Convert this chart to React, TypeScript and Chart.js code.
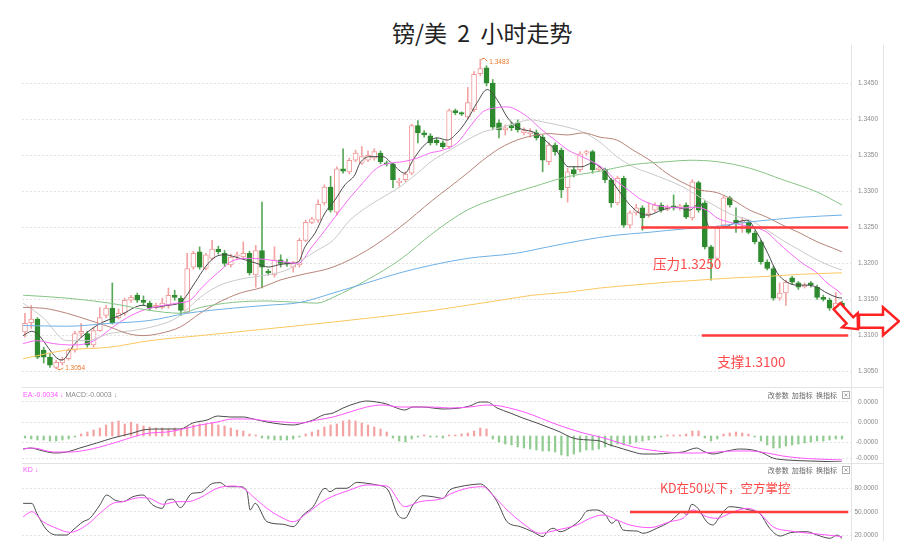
import React, { useEffect, useRef } from "react";
import { Chart, registerables } from "chart.js";

Chart.register(...registerables);

// ---------------- data ----------------
const TITLE = "镑/美  2  小时走势";

const candleOpen = [
  1.3105, 1.3118, 1.3123, 1.3080, 1.3070, 1.3056, 1.3062, 1.3068, 1.3080, 1.3103,
  1.3103, 1.3087, 1.3107, 1.3128, 1.3138, 1.3125, 1.3131, 1.3149, 1.3156, 1.3149,
  1.3145, 1.3139, 1.3139, 1.3141, 1.3156, 1.3152, 1.3132, 1.3195, 1.3216, 1.3193,
  1.3207, 1.3220, 1.3214, 1.3198, 1.3210, 1.3209, 1.3214, 1.3184, 1.3218, 1.3189,
  1.3184, 1.3205, 1.3202, 1.3195, 1.3198, 1.3232, 1.3257, 1.3260, 1.3284, 1.3306,
  1.3271, 1.3331, 1.3327, 1.3343, 1.3339, 1.3343, 1.3346, 1.3353, 1.3339, 1.3338,
  1.3312, 1.3316, 1.3325, 1.3391, 1.3381, 1.3377, 1.3371, 1.3367, 1.3362, 1.3412,
  1.3409, 1.3403, 1.3413, 1.3463, 1.3471, 1.3450, 1.3395, 1.3385, 1.3391, 1.3395,
  1.3381, 1.3380, 1.3381, 1.3375, 1.3341, 1.3364, 1.3357, 1.3305, 1.3330, 1.3330,
  1.3353, 1.3355, 1.3330, 1.3330, 1.3316, 1.3284, 1.3318, 1.3253, 1.3270, 1.3277,
  1.3267, 1.3274, 1.3281, 1.3275, 1.3280, 1.3277, 1.3281, 1.3263, 1.3312, 1.3284,
  1.3223, 1.3207, 1.3253, 1.3291, 1.3260, 1.3256, 1.3257, 1.3242, 1.3230, 1.3202,
  1.3193, 1.3152, 1.3159, 1.3180, 1.3173, 1.3168, 1.3173, 1.3167, 1.3153, 1.3149,
  1.3138, 1.3145,
];
const candleClose = [
  1.3117, 1.3123, 1.3070, 1.3070, 1.3059, 1.3063, 1.3067, 1.3080, 1.3103, 1.3106,
  1.3087, 1.3107, 1.3125, 1.3138, 1.3118, 1.3131, 1.3149, 1.3153, 1.3149, 1.3146,
  1.3138, 1.3142, 1.3145, 1.3156, 1.3153, 1.3135, 1.3193, 1.3214, 1.3195, 1.3212,
  1.3220, 1.3216, 1.3200, 1.3209, 1.3212, 1.3214, 1.3187, 1.3218, 1.3195, 1.3187,
  1.3205, 1.3200, 1.3199, 1.3200, 1.3232, 1.3257, 1.3262, 1.3282, 1.3306, 1.3274,
  1.3331, 1.3328, 1.3343, 1.3353, 1.3348, 1.3350, 1.3355, 1.3341, 1.3338, 1.3316,
  1.3314, 1.3324, 1.3391, 1.3381, 1.3378, 1.3367, 1.3367, 1.3362, 1.3412, 1.3409,
  1.3407, 1.3423, 1.3462, 1.3470, 1.3450, 1.3389, 1.3385, 1.3388, 1.3388, 1.3385,
  1.3384, 1.3382, 1.3374, 1.3343, 1.3364, 1.3355, 1.3302, 1.3327, 1.3324, 1.3352,
  1.3355, 1.3330, 1.3332, 1.3316, 1.3284, 1.3318, 1.3253, 1.3270, 1.3277, 1.3263,
  1.3270, 1.3281, 1.3274, 1.3278, 1.3277, 1.3280, 1.3264, 1.3313, 1.3274, 1.3223,
  1.3207, 1.3249, 1.3291, 1.3281, 1.3256, 1.3259, 1.3243, 1.3230, 1.3202, 1.3193,
  1.3152, 1.3159, 1.3174, 1.3174, 1.3167, 1.3170, 1.3170, 1.3153, 1.3150, 1.3138,
  1.3145, 1.3131,
];
const candleHigh = [
  1.3131, 1.3142, 1.3125, 1.3084, 1.3075, 1.3066, 1.3070, 1.3082, 1.3106, 1.3117,
  1.3106, 1.3110, 1.3139, 1.3142, 1.3173, 1.3137, 1.3152, 1.3156, 1.3159, 1.3155,
  1.3148, 1.3145, 1.3152, 1.3166, 1.3163, 1.3155, 1.3214, 1.3217, 1.3223, 1.3214,
  1.3232, 1.3224, 1.3218, 1.3213, 1.3216, 1.3230, 1.3217, 1.3225, 1.3285, 1.3192,
  1.3223, 1.3212, 1.3206, 1.3203, 1.3235, 1.3260, 1.3264, 1.3288, 1.3309, 1.3321,
  1.3334, 1.3359, 1.3346, 1.3357, 1.3362, 1.3356, 1.3359, 1.3356, 1.3342, 1.3339,
  1.3318, 1.3327, 1.3393, 1.3398, 1.3384, 1.3380, 1.3374, 1.3370, 1.3414, 1.3414,
  1.3410, 1.3444, 1.3466, 1.3483, 1.3474, 1.3455, 1.3399, 1.3392, 1.3396, 1.3399,
  1.3388, 1.3387, 1.3385, 1.3378, 1.3367, 1.3367, 1.3360, 1.3332, 1.3334, 1.3355,
  1.3357, 1.3357, 1.3335, 1.3332, 1.3318, 1.3321, 1.3321, 1.3273, 1.3282, 1.3280,
  1.3284, 1.3284, 1.3284, 1.3281, 1.3295, 1.3282, 1.3284, 1.3316, 1.3314, 1.3287,
  1.3225, 1.3252, 1.3293, 1.3293, 1.3277, 1.3264, 1.3260, 1.3245, 1.3232, 1.3205,
  1.3196, 1.3173, 1.3177, 1.3182, 1.3175, 1.3173, 1.3175, 1.3170, 1.3156, 1.3152,
  1.3160, 1.3148,
];
const candleLow = [
  1.3098, 1.3110, 1.3068, 1.3062, 1.3056, 1.3054, 1.3059, 1.3066, 1.3077, 1.3098,
  1.3084, 1.3084, 1.3106, 1.3125, 1.3116, 1.3123, 1.3128, 1.3146, 1.3146, 1.3142,
  1.3135, 1.3137, 1.3137, 1.3138, 1.3149, 1.3128, 1.3131, 1.3192, 1.3192, 1.3191,
  1.3205, 1.3213, 1.3196, 1.3195, 1.3206, 1.3206, 1.3184, 1.3167, 1.3166, 1.3184,
  1.3181, 1.3195, 1.3196, 1.3188, 1.3195, 1.3230, 1.3255, 1.3257, 1.3281, 1.3271,
  1.3267, 1.3325, 1.3324, 1.3341, 1.3337, 1.3341, 1.3343, 1.3338, 1.3335, 1.3305,
  1.3307, 1.3313, 1.3323, 1.3367, 1.3375, 1.3364, 1.3364, 1.3359, 1.3359, 1.3406,
  1.3405, 1.3400, 1.3410, 1.3460, 1.3446, 1.3385, 1.3374, 1.3378, 1.3384, 1.3382,
  1.3378, 1.3375, 1.3371, 1.3327, 1.3337, 1.3350, 1.3291, 1.3285, 1.3320, 1.3327,
  1.3350, 1.3325, 1.3327, 1.3312, 1.3278, 1.3281, 1.3250, 1.3249, 1.3267, 1.3246,
  1.3264, 1.3271, 1.3271, 1.3273, 1.3274, 1.3274, 1.3262, 1.3260, 1.3271, 1.3220,
  1.3177, 1.3205, 1.3250, 1.3278, 1.3243, 1.3243, 1.3241, 1.3227, 1.3199, 1.3191,
  1.3149, 1.3149, 1.3142, 1.3171, 1.3164, 1.3166, 1.3167, 1.3150, 1.3148, 1.3135,
  1.3135, 1.3128,
];

// moving averages: [candle index, price]
const ma5 = [
  [-0.3, 1.31], [1.1, 1.3106], [5.9, 1.3066], [8.0, 1.3089], [11.5, 1.3114], [15.2, 1.3128],
  [18.9, 1.3142], [20.5, 1.3139], [22.8, 1.3142], [24.9, 1.3146], [27.3, 1.3174], [28.9, 1.3195],
  [30.5, 1.3209], [32.1, 1.3212], [33.7, 1.3209], [35.3, 1.3205], [37.2, 1.32], [39.0, 1.3195],
  [40.6, 1.3198], [42.2, 1.32], [43.8, 1.3202], [44.9, 1.3223], [46.5, 1.3242], [48.1, 1.327],
  [49.7, 1.3288], [51.3, 1.3309], [52.9, 1.3323], [53.7, 1.3339], [55.3, 1.3348], [57.4, 1.3348],
  [59.0, 1.3337], [60.9, 1.3325], [62.2, 1.3343], [63.8, 1.3362], [66.1, 1.3374], [67.7, 1.3371],
  [69.3, 1.3381], [70.9, 1.3399], [72.5, 1.3423], [74.1, 1.3441], [75.7, 1.3427], [77.3, 1.3403],
  [78.9, 1.3389], [81.8, 1.3381], [83.9, 1.3367], [85.5, 1.3353], [87.1, 1.3334], [89.3, 1.3334],
  [90.9, 1.3339], [93.0, 1.3327], [95.1, 1.3302], [96.7, 1.3284], [98.3, 1.3271], [99.9, 1.3267],
  [102.1, 1.3274], [104.2, 1.3278], [106.6, 1.3274], [108.2, 1.3284], [109.8, 1.325], [111.9, 1.325],
  [113.8, 1.3256], [115.8, 1.326], [117.4, 1.3242], [119.1, 1.3214], [120.6, 1.3187], [122.2, 1.3174],
  [123.8, 1.317], [125.4, 1.317], [127.0, 1.3167], [128.6, 1.3159], [130.2, 1.3153], [131.0, 1.3152],
];
const ma10 = [
  [-0.3, 1.3089], [1.9, 1.3093], [4.5, 1.3089], [7.2, 1.3087], [9.9, 1.3089], [12.0, 1.3098],
  [14.1, 1.3112], [16.4, 1.3125], [18.9, 1.3135], [21.6, 1.3141], [24.4, 1.3145], [26.5, 1.3149],
  [28.4, 1.3167], [30.9, 1.3187], [33.7, 1.3205], [36.4, 1.3207], [39.0, 1.3205], [41.7, 1.3202],
  [43.8, 1.32], [46.0, 1.3223], [48.1, 1.3246], [50.2, 1.327], [51.8, 1.3288], [52.9, 1.3299],
  [54.2, 1.3312], [56.4, 1.3332], [58.5, 1.3339], [60.6, 1.3341], [62.9, 1.3346], [64.9, 1.3353],
  [67.0, 1.3357], [69.3, 1.3367], [71.3, 1.3389], [73.4, 1.341], [75.7, 1.3416], [77.3, 1.3417],
  [79.4, 1.341], [80.6, 1.3403], [82.9, 1.3385], [85.0, 1.3371], [87.1, 1.3357], [89.3, 1.3348],
  [91.4, 1.3339], [93.0, 1.333], [94.6, 1.3316], [96.7, 1.3302], [98.9, 1.3288], [101.0, 1.3281],
  [103.1, 1.3278], [105.8, 1.3277], [107.1, 1.3278], [109.3, 1.3274], [111.0, 1.3263], [113.0, 1.3257],
  [115.1, 1.3253], [117.4, 1.3249], [119.0, 1.3243], [120.6, 1.323], [122.7, 1.3214], [124.7, 1.32],
  [127.0, 1.3187], [128.6, 1.3173], [130.2, 1.3163], [131.0, 1.3157],
];
const ma20 = [
  [-0.3, 1.3145], [2.9, 1.3125], [6.7, 1.3093], [9.9, 1.3093], [13.6, 1.3103], [17.3, 1.3107],
  [21.2, 1.3114], [24.4, 1.3125], [28.1, 1.3153], [31.3, 1.317], [35.6, 1.318], [38.8, 1.3184],
  [42.5, 1.3193], [44.1, 1.3203], [46.8, 1.3218], [49.4, 1.3232], [52.1, 1.326], [54.8, 1.3278],
  [57.4, 1.3292], [60.1, 1.3306], [62.9, 1.3325], [65.4, 1.3343], [68.1, 1.3357], [70.9, 1.3371],
  [73.4, 1.3382], [76.2, 1.3388], [78.9, 1.3395], [81.0, 1.3399], [83.7, 1.3395], [86.9, 1.3389],
  [89.5, 1.3382], [92.2, 1.3368], [94.9, 1.3348], [97.5, 1.3334], [100.2, 1.3325], [102.9, 1.3316],
  [105.5, 1.3306], [108.2, 1.3292], [111.0, 1.3278], [113.5, 1.3267], [116.2, 1.326], [119.0, 1.3246],
  [121.5, 1.3232], [124.3, 1.3218], [127.0, 1.3205], [129.6, 1.3195], [131.0, 1.3191],
];
const ma30 = [
  [-0.3, 1.3139], [2.9, 1.3138], [6.7, 1.3131], [10.4, 1.3121], [13.6, 1.3112], [16.4, 1.3103],
  [18.9, 1.31], [21.6, 1.3103], [24.9, 1.3112], [28.1, 1.3131], [30.8, 1.3145], [34.5, 1.3159],
  [37.7, 1.3166], [40.9, 1.3177], [44.1, 1.3184], [49.4, 1.3195], [54.8, 1.3218], [60.1, 1.325],
  [65.4, 1.3288], [68.1, 1.3306], [70.9, 1.3325], [73.4, 1.3343], [76.2, 1.336], [78.9, 1.3371],
  [81.4, 1.3377], [84.2, 1.338], [86.9, 1.3378], [89.5, 1.3381], [92.2, 1.3375], [94.9, 1.3371],
  [97.5, 1.3357], [100.2, 1.3343], [102.9, 1.3325], [105.5, 1.3312], [108.2, 1.3302], [111.0, 1.3298],
  [113.5, 1.3288], [116.2, 1.3274], [119.0, 1.3264], [121.5, 1.3253], [124.3, 1.3242], [127.0, 1.323],
  [129.6, 1.3221], [131.0, 1.3216],
];
const ma60 = [
  [-0.3, 1.3156], [6.7, 1.3152], [13.6, 1.3145], [20.0, 1.3135], [24.9, 1.3131], [28.1, 1.3139],
  [33.3, 1.3146], [38.8, 1.3148], [44.1, 1.3146], [46.8, 1.3145], [49.4, 1.3153], [54.8, 1.3177],
  [60.1, 1.3205], [65.4, 1.3242], [70.9, 1.3274], [76.2, 1.3292], [81.4, 1.3306], [86.9, 1.332],
  [92.2, 1.3328], [97.5, 1.3337], [102.9, 1.3341], [106.6, 1.3343], [111.0, 1.3341], [116.2, 1.3332],
  [121.5, 1.3316], [127.0, 1.3299], [131.0, 1.3281],
];
const ma120 = [
  [-0.3, 1.3114], [6.7, 1.3113], [13.6, 1.3117], [20.0, 1.3121], [26.0, 1.3131], [33.3, 1.3138],
  [38.8, 1.3142], [44.1, 1.3146], [49.4, 1.3159], [54.8, 1.3173], [60.1, 1.3187], [65.4, 1.3198],
  [70.9, 1.3207], [78.6, 1.3214], [83.9, 1.3223], [89.3, 1.3232], [94.6, 1.3239], [99.9, 1.3243],
  [105.8, 1.3248], [109.8, 1.325], [114.6, 1.3256], [119.0, 1.326], [124.3, 1.3264], [131.0, 1.3267],
];
const ma240 = [
  [-0.3, 1.3068], [6.7, 1.308], [13.6, 1.3084], [20.0, 1.3093], [28.1, 1.31], [36.1, 1.3107],
  [44.1, 1.3114], [54.8, 1.3124], [65.4, 1.3135], [70.9, 1.3142], [76.2, 1.3149], [81.4, 1.3156],
  [86.9, 1.316], [92.2, 1.3166], [97.5, 1.317], [102.9, 1.3174], [108.2, 1.3177], [113.5, 1.318],
  [119.0, 1.3182], [124.3, 1.3185], [131.0, 1.3187],
];

const priceTicks = [1.305, 1.31, 1.315, 1.32, 1.325, 1.33, 1.335, 1.34, 1.345];

// annotations
const resistanceLevel = 1.325;
const resistanceFrom = 98.8;
const resistanceLabel = "压力1.3250";
const resistanceLabelAt = [100.7, 1.32];
const supportLevel = 1.31;
const supportFrom = 108.5;
const supportLabel = "支撑1.3100";
const supportLabelAt = [111.0, 1.3063];
const annotationEnd = 132.0;
const arrowLevel = 1.312;

// MACD panel (values in units of 1e-6)
const macdHist = [
  -2, -3, -4, -4, -5, -5, -4, -3, -1, 2,
  4, 6, 8, 11, 14, 15, 12, 14, 12, 10,
  9, 8, 8, 7, 8, 7, 9, 11, 12, 12,
  13, 11, 10, 8, 6, 5, 2, 1, -2, -3,
  -4, -4, -4, -3, -1, 2, 4, 6, 9, 11,
  12, 15, 16, 15, 13, 11, 9, 7, 4, -2,
  -5, -6, -3, -1, 1, -1, -1, -2, 1, 1,
  2, 3, 5, 8, 7, -3, -6, -8, -9, -11,
  -12, -13, -14, -15, -15, -16, -19, -20, -18, -16,
  -14, -14, -13, -11, -10, -8, -9, -8, -6, -5,
  -4, -2, -1, 1, 1, 1, 2, 5, 5, -2,
  -5, -3, 2, 3, 4, 3, 2, -1, -5, -9,
  -12, -12, -10, -9, -8, -7, -6, -5, -5, -4,
  -3, -3,
];
const macdDif = [
  [-0.3, -13], [0.8, -12], [2.9, -15], [4.8, -17], [6.7, -16], [8.8, -12], [11.5, -7], [14.1, -2],
  [17.3, 3], [18.9, 6], [21.6, 7], [24.9, 7], [26.9, 13], [29.2, 16], [30.9, 20], [32.9, 19],
  [35.0, 19], [36.6, 17], [38.8, 14], [40.9, 12], [43.0, 11], [44.6, 13], [46.2, 16], [47.8, 21],
  [49.4, 23], [51.0, 28], [53.2, 33], [54.8, 35], [56.4, 34], [58.0, 32], [59.6, 28], [60.9, 26],
  [62.2, 29], [63.8, 29], [65.4, 28], [67.0, 27], [69.7, 28], [71.3, 30], [73.0, 34], [74.1, 34],
  [75.7, 28], [77.8, 23], [79.8, 18], [82.1, 13], [84.2, 8], [85.8, 4], [87.4, -1], [88.5, -3],
  [90.6, -4], [92.2, -5], [93.8, -9], [94.9, -11], [97.0, -15], [99.1, -18], [101.3, -18], [103.4, -17],
  [105.5, -16], [107.7, -12], [108.7, -15], [110.3, -18], [112.6, -15], [114.6, -13], [116.7, -14],
  [118.3, -17], [119.9, -22], [122.2, -24], [125.9, -25], [131.0, -26],
];
const macdDea = [
  [-0.3, -13], [1.3, -12], [4.5, -16], [7.2, -16], [9.9, -14], [12.0, -11], [14.8, -6], [17.3, -1],
  [20.0, 3], [22.8, 4], [25.3, 7], [28.1, 11], [30.8, 14], [33.3, 17], [36.1, 17], [38.8, 15],
  [41.4, 14], [44.1, 13], [46.8, 16], [49.4, 19], [52.1, 24], [54.8, 29], [57.4, 31], [60.1, 29],
  [62.9, 29], [65.4, 29], [68.1, 28], [71.3, 29], [74.1, 31], [76.2, 30], [78.9, 26], [81.4, 21],
  [84.2, 14], [86.9, 8], [89.5, 3], [92.2, -1], [94.9, -6], [97.5, -11], [100.2, -14], [102.9, -16],
  [105.5, -17], [108.2, -17], [111.0, -16], [113.5, -15], [116.2, -15], [119.0, -17], [121.5, -20],
  [124.3, -22], [127.0, -23], [131.0, -24],
];
const macdTicks = [34, 14, -6, -22];
const deaReading = "EA:-0.0034 ";
const macdReading = " MACD:-0.0003 ↓";

// KD panel
const kdK = [
  [-0.3, 61.1], [1.1, 61], [1.9, 48.3], [3.5, 27], [5.1, 20.6], [6.7, 20.6], [7.7, 27], [9.3, 37.6],
  [10.4, 41.9], [12.0, 58.9], [13.1, 71.7], [14.4, 65.3], [15.7, 63.2], [17.3, 69.5], [18.9, 71.7],
  [20.5, 58.9], [22.0, 54.7], [22.8, 65.3], [23.7, 66.3], [24.9, 55.5], [26.8, 73.9], [28.1, 74.8],
  [30.1, 86.6], [31.3, 87.5], [32.4, 82.3], [34.5, 82.3], [35.6, 75.9], [36.1, 52.6], [36.9, 61.1],
  [38.8, 37.6], [41.4, 34.3], [43.0, 31.3], [44.6, 46.2], [46.2, 56.8], [48.1, 80.3], [48.9, 75.9],
  [50.0, 80.3], [51.6, 80.3], [53.2, 87.9], [54.8, 86.6], [56.4, 84.5], [58.2, 78.1], [59.8, 46.2],
  [60.9, 41.9], [62.2, 58.9], [63.8, 70.8], [65.4, 69.5], [67.0, 67.4], [68.1, 78], [69.7, 82.3],
  [71.3, 84.5], [73.0, 85.8], [74.1, 80.3], [75.7, 63.2], [77.3, 37.6], [79.4, 31.3], [81.4, 24.8],
  [83.1, 18.5], [83.7, 24.8], [84.7, 29.2], [85.8, 24.8], [87.4, 30], [89.0, 39.8], [90.1, 51.3],
  [91.7, 52.6], [93.0, 47], [94.1, 35.6], [94.9, 39.8], [95.9, 27], [98.1, 25.7], [99.1, 22.8],
  [101.3, 29.2], [103.4, 37.6], [105.5, 50.4], [106.1, 46.2], [106.9, 59.8], [107.9, 54.7],
  [109.3, 37.6], [110.3, 33.4], [111.4, 44], [113.0, 56.8], [114.6, 55.5], [116.2, 52.6],
  [117.8, 48.3], [119.4, 29.2], [121.1, 19.3], [122.7, 23.6], [125.4, 24.8], [127.0, 20.6],
  [129.1, 16.4], [130.2, 20.6], [131.0, 16.4],
];
const kdD = [
  [-0.3, 44], [1.1, 50.4], [2.9, 37.6], [5.1, 29.1], [7.2, 24], [9.9, 33.4], [12.0, 48.3],
  [14.1, 61.1], [15.7, 63.2], [18.4, 68.3], [20.0, 67.4], [22.1, 59.8], [24.4, 63.2], [26.0, 63.2],
  [28.1, 68.3], [30.8, 80.3], [33.3, 83.2], [35.0, 80.3], [36.6, 69.5], [38.8, 54.7], [41.4, 41.9],
  [43.0, 37.6], [45.2, 48.3], [48.1, 65.3], [52.1, 78.1], [54.8, 84.5], [58.0, 83.2], [60.9, 56.8],
  [63.3, 63.2], [67.0, 67.4], [68.1, 72.6], [70.9, 80.3], [73.4, 82.3], [75.0, 71.7], [77.3, 52.6],
  [79.8, 35.6], [82.6, 22.8], [85.3, 27], [88.5, 33.4], [90.6, 41.9], [92.7, 46.2], [94.9, 39.8],
  [97.0, 33.4], [100.2, 30], [103.4, 37.6], [105.5, 41.9], [107.1, 52.6], [109.3, 44], [111.0, 41.9],
  [113.0, 48.3], [115.8, 54.7], [117.8, 48.3], [119.9, 31.3], [122.7, 25.7], [125.9, 22.8],
  [128.6, 20.6], [131.0, 18.5],
];
const kdTicks = [80, 50, 20];
const kdLevel = 50;
const kdLevelFrom = 97.0;
const kdLabel = "KD在50以下，空方掌控";
const kdLabelAt = [101.8, 80];
const kdHeader = "KD ↓";
const panelButtons = "改参数  加指标  换指标";

// ---------------- styling ----------------
const X_MIN = -0.48;
const X_MAX = 132.44;
const PRICE_MIN = 1.30385;
const PRICE_MAX = 1.34958;
const MACD_MIN = -26;
const MACD_MAX = 48;
const KD_MIN = 12.96;
const KD_MAX = 111.3;

const LABEL_FONT = '"Liberation Sans", "DejaVu Sans", sans-serif';
const CJK_FONT = '"Noto Sans CJK SC", sans-serif';
const RED = "#ff3b3b";
const MAGENTA = "#ff55ff";
const DARK = "#4a4a4a";

const isUp = (i: number) => candleClose[i] >= candleOpen[i];
const toXY = (pts: number[][]) => pts.map(([x, y]) => ({ x, y }));

function xAxis() {
  return { type: "linear", display: false, min: X_MIN, max: X_MAX, offset: false };
}

function yAxis(min: number, max: number, ticks: number[], fmt: (v: number) => string, pad: number) {
  return {
    type: "linear",
    position: "right",
    min,
    max,
    afterFit: (s: any) => {
      s.width = 27;
    },
    afterBuildTicks: (s: any) => {
      s.ticks = ticks.map((v) => ({ value: v }));
    },
    grid: { color: "#e2e2e2", lineWidth: 1, drawTicks: false },
    border: { display: false, dash: [2, 2] },
    ticks: {
      callback: (v: any) => fmt(Number(v)),
      font: { size: 6.5, family: LABEL_FONT },
      color: "#8a8a8a",
      padding: pad,
      crossAlign: "far",
      autoSkip: false,
    },
  };
}

function lineDs(pts: number[][], color: string, width = 1, order = 1) {
  return {
    type: "line",
    data: toXY(pts),
    borderColor: color,
    borderWidth: width,
    pointRadius: 0,
    fill: false,
    cubicInterpolationMode: "monotone",
    order,
  };
}

function flatDs(from: number, level: number, color: string, width: number) {
  return {
    type: "line",
    data: [
      { x: from, y: level },
      { x: annotationEnd, y: level },
    ],
    borderColor: color,
    borderWidth: width,
    pointRadius: 0,
    fill: false,
    order: 0,
  };
}

// frame lines: vertical rules at the plot's right edge and 32px further right,
// plus a separator along the top of the sub-panels
function framePlugin(topOffset: number | null, bottomExtra: number | null, separator: boolean) {
  return {
    id: "frameLines",
    beforeDraw(chart: any) {
      const { ctx, chartArea: a, height } = chart;
      ctx.save();
      ctx.strokeStyle = "#e3e3e3";
      ctx.lineWidth = 1;
      ctx.beginPath();
      const r = Math.round(a.right) + 0.5;
      const y0 = topOffset === null ? a.top - 1 : topOffset;
      const y1 = bottomExtra === null ? height : a.bottom + bottomExtra;
      ctx.moveTo(r, y0);
      ctx.lineTo(r, y1);
      ctx.moveTo(r + 32, y0);
      ctx.lineTo(r + 32, y1);
      if (separator) {
        const sy = Math.round(a.top) - 0.5;
        ctx.moveTo(a.left, sy);
        ctx.lineTo(r + 32, sy);
      }
      ctx.stroke();
      ctx.restore();
    },
  };
}

function blockArrow(ctx: CanvasRenderingContext2D, x0: number, y0: number, x1: number, y1: number, shaftW: number, headW: number, headL: number) {
  const ang = Math.atan2(y1 - y0, x1 - x0);
  const len = Math.hypot(x1 - x0, y1 - y0);
  ctx.save();
  ctx.translate(x0, y0);
  ctx.rotate(ang);
  ctx.beginPath();
  ctx.moveTo(0, -shaftW / 2);
  ctx.lineTo(len - headL, -shaftW / 2);
  ctx.lineTo(len - headL, -headW / 2);
  ctx.lineTo(len, 0);
  ctx.lineTo(len - headL, headW / 2);
  ctx.lineTo(len - headL, shaftW / 2);
  ctx.lineTo(0, shaftW / 2);
  ctx.closePath();
  ctx.fillStyle = "#ffffff";
  ctx.fill();
  ctx.lineWidth = 2.5;
  ctx.lineJoin = "miter";
  ctx.strokeStyle = "#ff2222";
  ctx.stroke();
  ctx.restore();
}

const mainDecor = {
  id: "mainDecor",
  afterDatasetsDraw(chart: any) {
    const { ctx, chartArea: a, scales } = chart;
    const x = scales.x;
    const y = scales.y;
    ctx.save();
    // resistance / support labels
    ctx.font = `13.5px ${CJK_FONT}`;
    ctx.fillStyle = "#ff4a4a";
    ctx.textBaseline = "middle";
    ctx.textAlign = "left";
    ctx.fillText(resistanceLabel, x.getPixelForValue(resistanceLabelAt[0]), y.getPixelForValue(resistanceLabelAt[1]));
    ctx.fillText(supportLabel, x.getPixelForValue(supportLabelAt[0]), y.getPixelForValue(supportLabelAt[1]));

    // high / low markers
    ctx.font = `6.5px ${LABEL_FONT}`;
    ctx.fillStyle = "#e8782e";
    ctx.strokeStyle = "#e8782e";
    ctx.lineWidth = 1;
    const hi = Math.max(...candleHigh);
    const hiI = candleHigh.indexOf(hi);
    const hx = x.getPixelForValue(hiI);
    const hy = y.getPixelForValue(hi);
    ctx.beginPath();
    ctx.moveTo(hx + 1, hy);
    ctx.lineTo(hx + 4, hy - 1);
    ctx.lineTo(hx + 7, hy + 2);
    ctx.stroke();
    ctx.fillText(hi.toFixed(4), hx + 9, hy + 2.5);
    const lo = Math.min(...candleLow);
    const loI = candleLow.indexOf(lo);
    const lx = x.getPixelForValue(loI);
    const ly = y.getPixelForValue(lo);
    ctx.beginPath();
    ctx.moveTo(lx + 1, ly);
    ctx.lineTo(lx + 4, ly + 1);
    ctx.lineTo(lx + 7, ly - 1);
    ctx.stroke();
    ctx.fillText(lo.toFixed(4), lx + 9, ly - 1);

    // arrows
    const ay = y.getPixelForValue(arrowLevel);
    blockArrow(ctx, a.right - 14, ay - 15, a.right + 7, ay + 8, 9, 21, 12);
    blockArrow(ctx, a.right + 8, ay, a.right + 48, ay, 13, 28, 16);
    ctx.restore();
  },
};

function panelDecor(header: [string, string][], dy: number, extra?: (chart: any) => void) {
  return {
    id: "panelDecor",
    afterDatasetsDraw(chart: any) {
      const { ctx, chartArea: a } = chart;
      ctx.save();
      const cy = a.top + dy;
      ctx.font = `7px ${LABEL_FONT}`;
      ctx.textBaseline = "middle";
      ctx.textAlign = "left";
      let cx = a.left + 1;
      for (const [t, c] of header) {
        ctx.fillStyle = c;
        ctx.fillText(t, cx, cy);
        cx += ctx.measureText(t).width;
      }
      ctx.font = `7px ${CJK_FONT}`;
      ctx.fillStyle = "#666";
      ctx.textAlign = "right";
      ctx.fillText(panelButtons, a.right - 14, cy);
      ctx.strokeStyle = "#aaa";
      ctx.lineWidth = 1;
      const bx = Math.round(a.right - 9) + 0.5;
      const by = Math.round(cy - 4) + 0.5;
      ctx.strokeRect(bx, by, 7, 7);
      ctx.beginPath();
      ctx.moveTo(bx + 2, by + 2);
      ctx.lineTo(bx + 5, by + 5);
      ctx.moveTo(bx + 5, by + 2);
      ctx.lineTo(bx + 2, by + 5);
      ctx.stroke();
      if (extra) extra(chart);
      ctx.restore();
    },
  };
}

const baseOptions = (padding: any, yScale: any) => ({
  responsive: false,
  maintainAspectRatio: false,
  animation: false,
  events: [],
  layout: { padding },
  plugins: { legend: { display: false }, tooltip: { enabled: false }, title: { display: false } },
  scales: { x: xAxis(), y: yScale },
});

// canvas placement (page px); plot areas: main 50-380, MACD 388-462, KD 464-541
const MAIN_TOP = 0;
const MAIN_H = 400;
const MACD_TOP = 376;
const MACD_H = 98;
const KD_TOP = 451;
const KD_H = 102;

export default function App() {
  const mainRef = useRef<HTMLCanvasElement>(null);
  const macdRef = useRef<HTMLCanvasElement>(null);
  const kdRef = useRef<HTMLCanvasElement>(null);

  useEffect(() => {
    const charts: Chart[] = [];

    // ---------- main price panel ----------
    const mainCfg: any = {
      type: "bar",
      data: {
        datasets: [
          {
            type: "bar",
            data: candleHigh.map((h, i) => ({ x: i, y: [candleLow[i], h] })),
            backgroundColor: (c: any) => (c.dataIndex !== undefined && isUp(c.dataIndex) ? "#f3a3a3" : "#5aa85a"),
            barThickness: 1,
            grouped: false,
            order: 3,
          },
          {
            type: "bar",
            data: candleOpen.map((o, i) => ({ x: i, y: [o, candleClose[i]] })),
            backgroundColor: (c: any) => (c.dataIndex !== undefined && isUp(c.dataIndex) ? "#ffffff" : "#2e8a2e"),
            borderColor: (c: any) => (c.dataIndex !== undefined && isUp(c.dataIndex) ? "#f09a9a" : "#2e8a2e"),
            borderWidth: 1,
            borderSkipped: false,
            minBarLength: 1,
            barThickness: 5,
            grouped: false,
            order: 2,
          },
          lineDs(ma240, "#fbc860"),
          lineDs(ma120, "#6fb0e4"),
          lineDs(ma60, "#86c486"),
          lineDs(ma30, "#b8837a"),
          lineDs(ma20, "#c9c9c9"),
          lineDs(ma10, "#f76cf7"),
          lineDs(ma5, DARK),
          flatDs(resistanceFrom, resistanceLevel, RED, 2.5),
          flatDs(supportFrom, supportLevel, RED, 2.5),
        ],
      },
      options: baseOptions(
        { left: 22, right: 22, top: 50 - MAIN_TOP, bottom: MAIN_TOP + MAIN_H - 380 },
        yAxis(PRICE_MIN, PRICE_MAX, priceTicks, (v) => v.toFixed(4), 7)
      ),
      plugins: [framePlugin(45, 7, false), mainDecor],
    };
    charts.push(new Chart(mainRef.current as HTMLCanvasElement, mainCfg));

    // ---------- MACD panel ----------
    const macdCfg: any = {
      type: "bar",
      data: {
        datasets: [
          {
            type: "bar",
            data: macdHist.map((v, i) => ({ x: i, y: v })),
            backgroundColor: (c: any) => {
              const v = c.raw ? c.raw.y : 0;
              return v >= 0 ? "#f4a3a3" : "#92cc92";
            },
            barThickness: 1.6,
            grouped: false,
            order: 2,
          },
          lineDs(macdDea, MAGENTA, 1),
          lineDs(macdDif, DARK, 1),
        ],
      },
      options: baseOptions(
        { left: 22, right: 22, top: 388 - MACD_TOP, bottom: MACD_TOP + MACD_H - 462 },
        yAxis(MACD_MIN, MACD_MAX, macdTicks, (v) => (v * 1e-6).toFixed(4), 5)
      ),
      plugins: [
        framePlugin(null, 1, true),
        panelDecor(
          [
            [deaReading, MAGENTA],
            ["↓", MAGENTA],
            [macdReading, "#8a8a8a"],
          ],
          7
        ),
      ],
    };
    charts.push(new Chart(macdRef.current as HTMLCanvasElement, macdCfg));

    // ---------- KD panel ----------
    const kdCfg: any = {
      type: "line",
      data: {
        datasets: [lineDs(kdD, MAGENTA, 1), lineDs(kdK, DARK, 1), flatDs(kdLevelFrom, kdLevel, RED, 2.5)],
      },
      options: baseOptions(
        { left: 22, right: 22, top: 464 - KD_TOP, bottom: KD_TOP + KD_H - 541 },
        yAxis(KD_MIN, KD_MAX, kdTicks, (v) => v.toFixed(4), 3.5)
      ),
      plugins: [
        framePlugin(null, null, true),
        panelDecor([[kdHeader, MAGENTA]], 6, (chart: any) => {
          const { ctx, scales } = chart;
          ctx.font = `12.5px ${CJK_FONT}`;
          ctx.fillStyle = "#ff4a4a";
          ctx.textAlign = "left";
          ctx.textBaseline = "middle";
          ctx.fillText(kdLabel, scales.x.getPixelForValue(kdLabelAt[0]), scales.y.getPixelForValue(kdLabelAt[1]));
        }),
      ],
    };
    charts.push(new Chart(kdRef.current as HTMLCanvasElement, kdCfg));

    return () => charts.forEach((c) => c.destroy());
  }, []);

  return (
    <div
      style={{
        position: "absolute",
        left: 0,
        top: 0,
        width: 900,
        height: 541,
        overflow: "hidden",
        background: "#ffffff",
      }}
    >
      <div
        style={{
          position: "absolute",
          left: 392,
          top: 18,
          fontFamily: CJK_FONT,
          fontSize: 23,
          lineHeight: "29px",
          whiteSpace: "pre",
          color: "#222",
        }}
      >
        {TITLE}
      </div>
      <canvas ref={mainRef} width={900} height={MAIN_H} style={{ position: "absolute", left: 0, top: MAIN_TOP }} />
      <canvas ref={macdRef} width={900} height={MACD_H} style={{ position: "absolute", left: 0, top: MACD_TOP }} />
      <canvas ref={kdRef} width={900} height={KD_H} style={{ position: "absolute", left: 0, top: KD_TOP }} />
    </div>
  );
}
